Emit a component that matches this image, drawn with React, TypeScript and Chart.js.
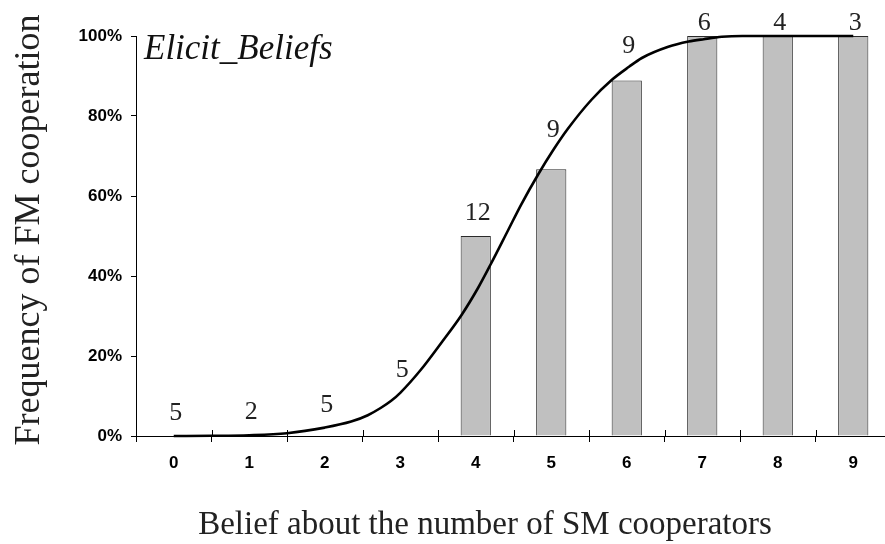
import React, { useEffect, useRef } from "react";
import { Chart, registerables } from "chart.js";

Chart.register(...registerables);

// Belief about number of SM cooperators (categories)
const categories = ["0", "1", "2", "3", "4", "5", "6", "7", "8", "9"];
// Observed frequency of FM cooperation (%)
const cooperationPct = [0, 0, 0, 0, 50, 66.7, 88.9, 100, 100, 100];
// Number of observations per belief
const counts = [5, 2, 5, 5, 12, 9, 9, 6, 4, 3];
// Fitted curve: belief value and percent
const fitX = [0, 0.5, 1, 1.5, 2, 2.35, 2.57, 2.74, 2.88, 3.0, 3.27, 3.54, 3.81, 4.03, 4.2, 4.43, 4.6, 4.83, 5.02, 5.22, 5.53, 5.8, 6.03, 6.2, 6.55, 6.82, 7.02, 7.26, 7.53, 9.0];
const fitY = [0, 0.05, 0.2, 0.7, 2.1, 3.6, 5.2, 7.0, 8.8, 10.8, 16.5, 23.2, 30.2, 37.0, 43.0, 51.5, 57.8, 65.5, 71.3, 76.8, 84, 89, 92.3, 94.5, 97.3, 98.6, 99.2, 99.8, 100, 100];
// Y tick values (%)
const yTickValues = [0, 20, 40, 60, 80, 100];

const treatmentLabel = "Elicit_Beliefs";
const xTitle = "Belief about the number of SM cooperators";
const yTitle = "Frequency of FM cooperation";

function fitAt(v: number): number {
  for (let j = 0; j < fitX.length - 1; j++) {
    if (v >= fitX[j] && v <= fitX[j + 1]) {
      const t = (v - fitX[j]) / (fitX[j + 1] - fitX[j]);
      return fitY[j] + t * (fitY[j + 1] - fitY[j]);
    }
  }
  return fitY[fitY.length - 1];
}

const SERIF = "'Liberation Serif', 'Times New Roman', serif";
const SANS = "'Liberation Sans', Arial, sans-serif";

const decorPlugin = {
  id: "decor",
  afterDatasetsDraw(chart: any) {
    const { ctx, scales } = chart;
    const x = scales.x;
    const y = scales.y;
    ctx.save();
    // upper half of the crossing x tick marks
    const half = (x.getPixelForValue(1) - x.getPixelForValue(0)) / 2;
    ctx.strokeStyle = "#000";
    ctx.lineWidth = 1;
    for (let i = 0; i <= categories.length; i++) {
      const px = Math.round(x.getPixelForValue(i) - half) + 0.5;
      ctx.beginPath();
      ctx.moveTo(px, y.bottom - 6);
      ctx.lineTo(px, y.bottom);
      ctx.stroke();
    }
    // count labels
    ctx.fillStyle = "#222";
    ctx.font = `26px ${SERIF}`;
    ctx.textAlign = "center";
    ctx.textBaseline = "alphabetic";
    counts.forEach((c, i) => {
      const v = Math.max(cooperationPct[i], fitAt(i));
      let py = y.getPixelForValue(v) - 16;
      py = Math.max(py, y.top - 6);
      ctx.fillText(String(c), x.getPixelForValue(i) + 2, py);
    });
    // treatment label
    ctx.font = `italic 35px ${SERIF}`;
    ctx.textAlign = "left";
    ctx.fillStyle = "#111";
    ctx.fillText(treatmentLabel, x.left + 8, y.top + 23);
    // x title
    ctx.font = `33px ${SERIF}`;
    ctx.textAlign = "center";
    ctx.fillStyle = "#222";
    ctx.fillText(xTitle, 485, 534);
    // y title
    ctx.save();
    ctx.translate(39, 230);
    ctx.rotate(-Math.PI / 2);
    ctx.font = `36px ${SERIF}`;
    ctx.textAlign = "center";
    ctx.fillText(yTitle, 0, 0);
    ctx.restore();
    ctx.restore();
  },
};

export default function App() {
  const ref = useRef<HTMLCanvasElement | null>(null);
  useEffect(() => {
    if (!ref.current) return;
    const chart = new Chart(ref.current, {
      type: "bar",
      data: {
        labels: categories,
        datasets: [
          {
            type: "line",
            xAxisID: "x2",
            data: fitX.map((v, i) => ({ x: v, y: fitY[i] })) as any,
            borderColor: "#000",
            borderWidth: 2.6,
            pointRadius: 0,
            cubicInterpolationMode: "monotone",
            order: 0,
            clip: false as any,
          } as any,
          {
            type: "bar",
            xAxisID: "x",
            data: cooperationPct,
            backgroundColor: "#c0c0c0",
            borderColor: "#2a2a2a",
            borderWidth: 1,
            barPercentage: 0.4,
            categoryPercentage: 1,
            grouped: false,
            order: 1,
            clip: false as any,
          } as any,
        ],
      },
      options: {
        responsive: false,
        animation: false,
        layout: { padding: { left: 0, top: 36, right: 1, bottom: 0 } },
        plugins: { legend: { display: false }, tooltip: { enabled: false } },
        scales: {
          x: {
            type: "category",
            offset: true,
            border: { display: true, color: "#000", width: 1 },
            grid: { offset: true, drawOnChartArea: false, drawTicks: true, tickLength: 6, color: "#000" },
            ticks: { color: "#000", font: { family: SANS, size: 17, weight: "bold" }, padding: 11, maxRotation: 0 },
            afterFit: (s: any) => { s.height = 108; },
          },
          x2: {
            type: "linear",
            display: false,
            offset: false,
            grid: { offset: false },
            min: -0.5,
            max: 9.5,
          },
          y: {
            min: 0,
            max: 100,
            border: { display: true, color: "#000", width: 1 },
            grid: { drawOnChartArea: false, drawTicks: true, tickLength: 5, color: "#000" },
            afterBuildTicks: (s: any) => { s.ticks = yTickValues.map((v) => ({ value: v })); },
            ticks: {
              color: "#000",
              font: { family: SANS, size: 17, weight: "bold" },
              padding: 9,
              callback: (v: any) => `${v}%`,
            },
            afterFit: (s: any) => { s.width = 136; },
          },
        },
      } as any,
      plugins: [decorPlugin],
    });
    return () => chart.destroy();
  }, []);
  return (
    <div style={{ position: "fixed", left: 0, top: 0, width: 885, height: 544, overflow: "hidden", background: "#fff" }}>
      <canvas ref={ref} width={892} height={544} style={{ display: "block" }} />
    </div>
  );
}
